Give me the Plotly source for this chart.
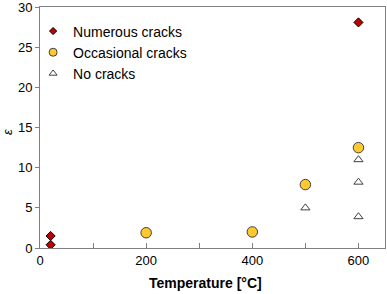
import plotly.graph_objects as go

numerous_x = [20, 20, 600]
numerous_y = [1.5, 0.4, 28.1]
occasional_x = [200, 400, 500, 600]
occasional_y = [1.9, 2.0, 7.9, 12.5]
none_x = [500, 600, 600, 600]
none_y = [5.0, 11.0, 8.2, 3.9]

x_ticks = [0, 200, 400, 600]
y_ticks = [0, 5, 10, 15, 20, 25, 30]

series = [
    ("Numerous cracks", numerous_x, numerous_y, "diamond", 7, 5.5, "#C00000", "#000000"),
    ("Occasional cracks", occasional_x, occasional_y, "circle", 10.5, 8, "#FFC830", "#404040"),
    ("No cracks", none_x, none_y, "triangle-up-open", 8, 7, "#404040", None),
]

fig = go.Figure()
for name, xs, ys, sym, size, lsize, col, lcol in series:
    line = dict(width=1) if lcol is None else dict(color=lcol, width=1)
    fig.add_trace(go.Scatter(x=xs, y=ys, mode="markers", name=name, showlegend=False,
                             marker=dict(symbol=sym, size=size, color=col, line=line)))
    fig.add_trace(go.Scatter(x=[None], y=[None], mode="markers", name=name, showlegend=True,
                             marker=dict(symbol=sym, size=lsize, color=col, line=line)))

fig.update_layout(
    width=387, height=294,
    margin=dict(l=40, r=2, t=7, b=46),
    paper_bgcolor="white", plot_bgcolor="white",
    font=dict(family="Liberation Sans, Arial, sans-serif", size=13, color="#000000"),
    showlegend=True,
    legend=dict(x=-0.02, y=0.965, xanchor="left", yanchor="top", bgcolor="rgba(0,0,0,0)",
                font=dict(size=14), itemsizing="trace", tracegroupgap=0),
    xaxis=dict(range=[0, 650], tickvals=x_ticks, ticks="inside", ticklen=5, tickcolor="#808080",
               minor=dict(dtick=100, tick0=0, ticks="inside", ticklen=5, tickcolor="#808080"),
               showline=True, linecolor="#808080", linewidth=1, mirror=True, showgrid=False,
               zeroline=False, automargin=False, ticklabeloverflow="allow"),
    yaxis=dict(range=[0, 30.02], tickvals=y_ticks, ticks="outside", ticklen=4, tickcolor="#808080",
               showline=True, linecolor="#808080", linewidth=1, mirror=True, showgrid=False,
               zeroline=False, automargin=False, ticklabeloverflow="allow"),
    annotations=[
        dict(text="<b>Temperature [°C]</b>", xref="paper", yref="paper",
             x=(205 - 40) / 345, y=(248 - 283) / 241, xanchor="center", yanchor="middle",
             showarrow=False, font=dict(size=14)),
        dict(text="<i>ε</i>", xref="paper", yref="paper",
             x=(7 - 40) / 345, y=(248 - 132) / 241, xanchor="center", yanchor="middle",
             showarrow=False, textangle=-90, font=dict(size=13)),
    ],
)

fig.write_html("out.html", post_script="document.body.style.margin='0';",
               config={"displayModeBar": False})
